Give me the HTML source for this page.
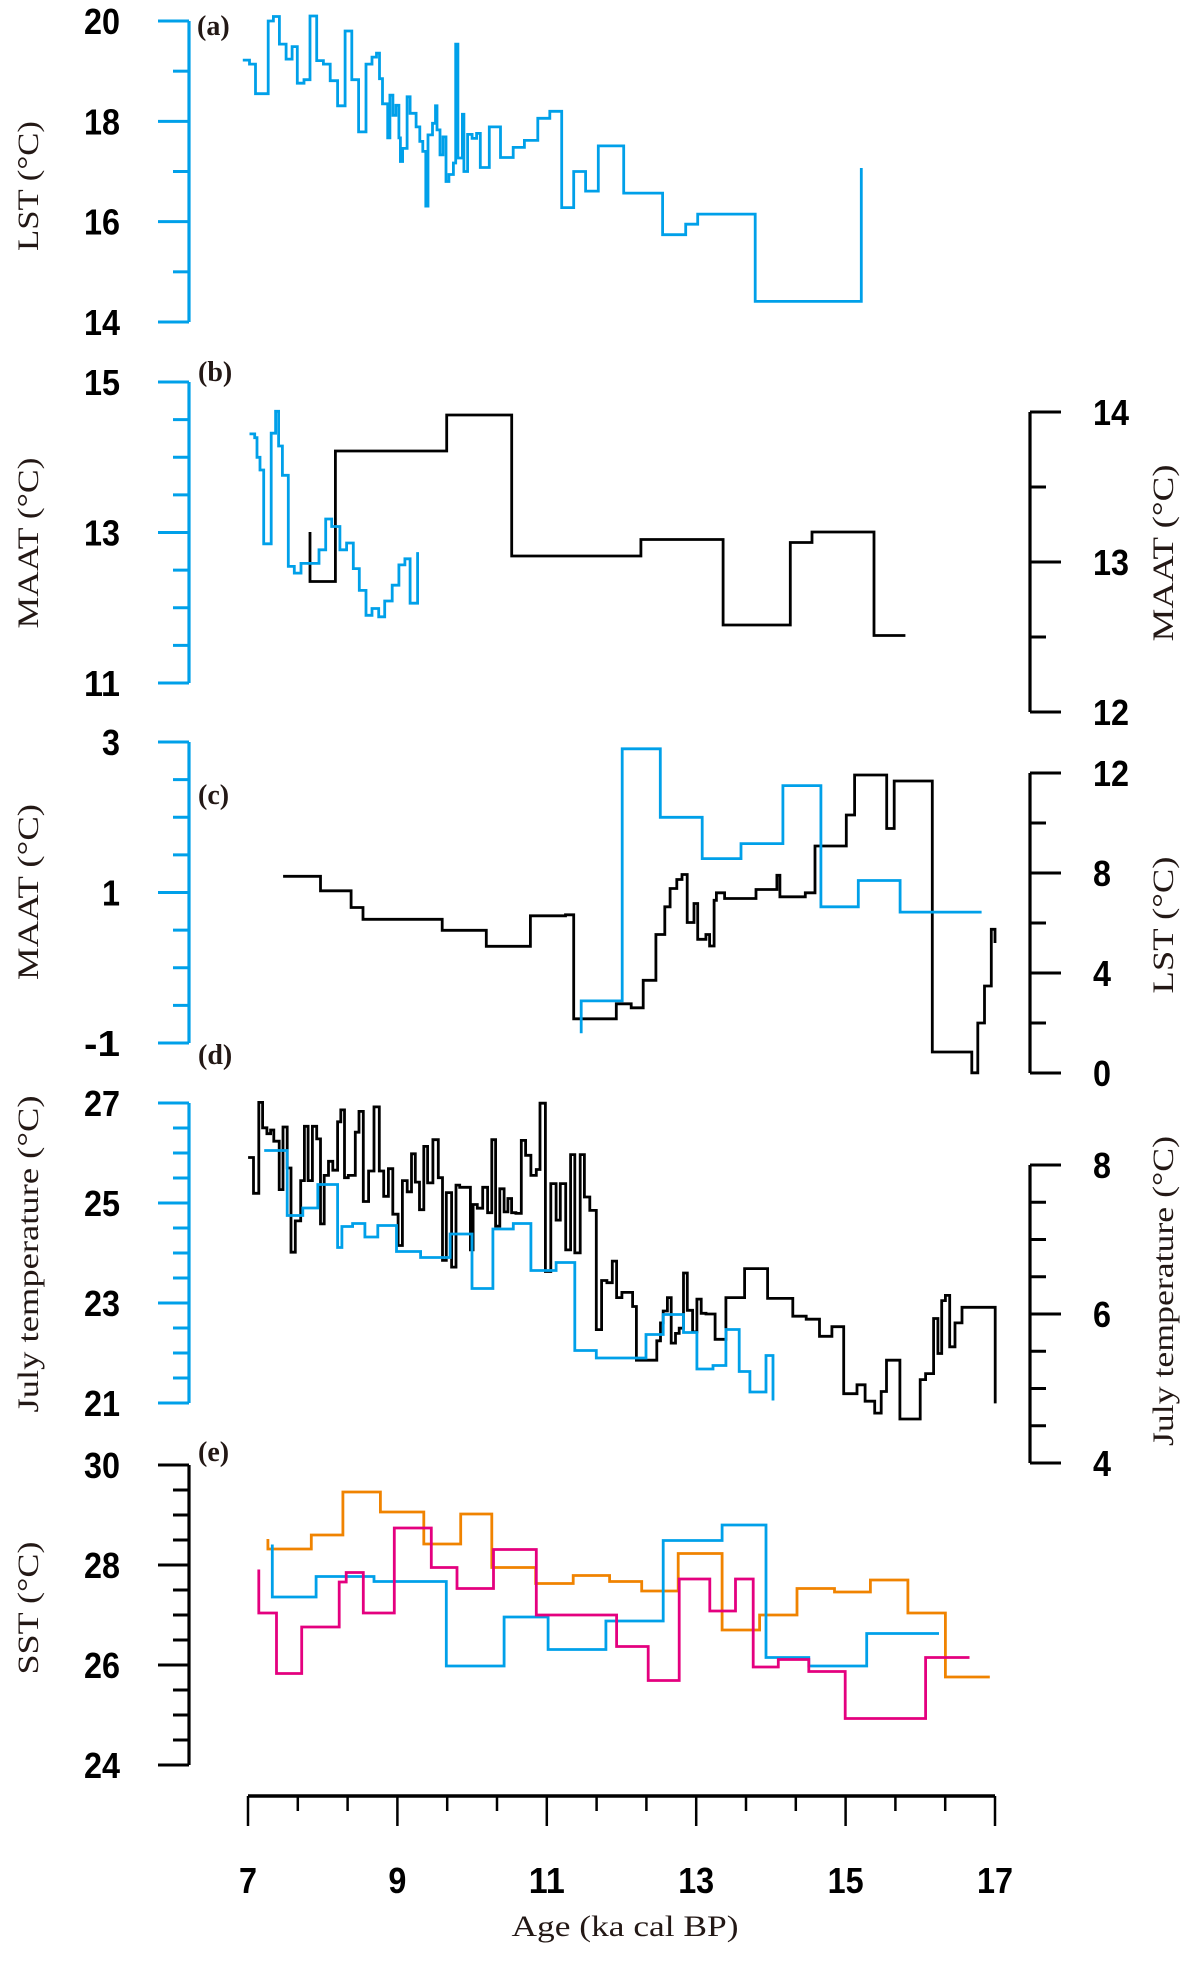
<!DOCTYPE html>
<html><head><meta charset="utf-8"><style>
html,body{margin:0;padding:0;background:#fff;}
svg{display:block;}
.tk{font-family:"Liberation Sans",sans-serif;font-weight:bold;font-size:36px;}
.ti{font-family:"Liberation Serif",serif;font-size:30px;}
.pl{font-family:"Liberation Serif",serif;font-size:28px;font-weight:bold;}
</style></head><body>
<svg id="chart" width="1192" height="1962" viewBox="0 0 1192 1962" xmlns="http://www.w3.org/2000/svg"></svg>
<script>
// ---- shared axis ----
const xTicks = [7, 9, 11, 13, 15, 17];
// ---- panel a: LST (blue) ----
const aAges = [6.93,7.02,7.10,7.27,7.34,7.42,7.51,7.59,7.66,7.75,7.83,7.92,8.01,8.10,8.20,8.30,8.39,8.48,8.58,8.66,8.72,8.76,8.80,8.87,8.90,8.94,8.98,9.02,9.04,9.07,9.13,9.17,9.25,9.30,9.34,9.38,9.41,9.47,9.51,9.53,9.57,9.61,9.65,9.69,9.75,9.78,9.81,9.87,9.89,9.94,10.00,10.06,10.11,10.23,10.38,10.55,10.70,10.88,11.04,11.20,11.36,11.52,11.69,12.03,12.55,12.86,13.02,13.79,15.21];
const aVals = [19.22,19.14,18.55,20.0,20.09,19.54,19.24,19.49,18.76,18.83,20.1,19.21,19.14,18.81,18.31,19.80,18.83,17.79,19.14,19.28,19.36,18.85,18.35,17.67,18.52,18.12,18.32,17.67,17.20,17.46,18.49,18.16,17.89,17.60,17.40,16.31,17.73,17.96,18.31,17.83,17.33,17.69,16.80,16.94,17.17,19.54,17.27,18.14,17.00,17.74,17.66,17.76,17.08,17.89,17.28,17.48,17.62,18.06,18.20,16.28,17.00,16.61,17.51,16.57,15.74,15.95,16.15,14.41,17.07];
const aEnd = 15.21;
// ---- panel b ----
const bBlueAges = [7.02,7.09,7.12,7.16,7.21,7.31,7.37,7.41,7.46,7.54,7.62,7.71,7.95,8.04,8.12,8.23,8.32,8.41,8.49,8.58,8.66,8.75,8.83,8.93,9.02,9.10,9.17,9.27];
const bBlueVals = [14.31,14.26,14.00,13.83,12.85,14.32,14.61,14.15,13.76,12.55,12.46,12.59,12.77,13.18,13.08,12.77,12.86,12.52,12.23,11.90,11.99,11.88,12.09,12.30,12.57,12.65,12.06,12.74];
const bBlueEnd = 9.27;
const bBlackAges = [7.83,7.83,8.17,9.66,10.53,12.26,13.36,14.26,14.55,15.38];
const bBlackVals = [13.20,12.87,13.74,13.98,13.04,13.15,12.58,13.13,13.20,12.51];
const bBlackEnd = 15.80;
// ---- panel c ----
const cBlueAges = [11.46,11.46,12.01,12.52,13.08,13.60,14.16,14.67,15.17,15.73];
const cBlueVals = [-0.87,-0.44,2.91,2.00,1.45,1.65,2.42,0.81,1.16,0.74];
const cBlueEnd = 16.82;
const cBlackAges = [7.47,7.97,8.38,8.54,9.60,10.19,10.78,11.25,11.36,11.93,12.13,12.29,12.46,12.58,12.65,12.74,12.81,12.88,12.97,13.02,13.13,13.18,13.24,13.27,13.38,13.80,14.08,14.12,14.46,14.59,15.01,15.12,15.55,15.65,16.16,16.69,16.77,16.86,16.95,17.00];
const cBlackVals = [7.87,7.29,6.62,6.15,5.71,5.07,6.29,6.33,2.17,2.77,2.61,3.71,5.54,6.65,7.38,7.74,7.94,6.02,6.78,5.35,5.54,5.08,6.91,7.21,6.98,7.34,7.91,7.05,7.21,9.08,10.32,11.92,9.78,11.68,0.84,0.01,2.00,3.48,5.75,5.20];
const cBlackEnd = 17.00;
// ---- panel d ----
const dBlueAges = [7.217,7.525,7.733,7.934,8.199,8.257,8.400,8.565,8.737,8.988,9.310,9.705,9.999,10.278,10.551,10.787,11.124,11.375,11.662,12.328,12.558,12.830,13.009,13.225,13.397,13.576,13.719,13.934,14.028];
const dBlueVals = [26.05,24.75,24.90,25.37,24.11,24.53,24.59,24.32,24.55,24.03,23.91,24.38,23.29,24.48,24.59,23.65,23.81,22.05,21.90,22.37,22.77,22.41,21.68,21.75,22.47,21.63,21.22,21.95,21.05];
const dBlueEnd = 14.028;
const dBlackAges = [7.002,7.074,7.145,7.196,7.253,7.303,7.346,7.418,7.468,7.525,7.575,7.633,7.705,7.755,7.805,7.862,7.920,7.970,8.020,8.077,8.135,8.199,8.242,8.292,8.343,8.436,8.486,8.543,8.615,8.687,8.758,8.816,8.880,8.938,9.009,9.067,9.131,9.189,9.239,9.296,9.353,9.404,9.475,9.547,9.604,9.655,9.726,9.784,9.834,9.977,10.013,10.070,10.142,10.207,10.264,10.314,10.371,10.429,10.479,10.529,10.586,10.658,10.716,10.787,10.859,10.909,10.981,11.053,11.124,11.181,11.253,11.318,11.375,11.447,11.504,11.576,11.662,11.734,11.805,11.877,11.934,12.006,12.149,12.199,12.472,12.522,12.558,12.615,12.665,12.723,12.773,12.830,12.881,12.952,13.009,13.067,13.131,13.253,13.397,13.648,13.956,14.293,14.472,14.651,14.816,14.974,15.153,15.261,15.390,15.476,15.548,15.727,15.999,16.071,16.178,16.236,16.286,16.336,16.393,16.465,16.558,17.003];
const dBlackVals = [8.10,7.62,8.84,8.50,8.42,8.47,8.32,7.67,8.51,7.96,6.83,7.25,7.79,8.52,7.79,8.52,8.35,7.21,7.86,8.05,7.93,8.58,8.74,7.83,7.86,8.44,8.72,7.51,7.92,8.78,7.92,7.58,7.95,7.34,6.92,7.79,7.64,8.15,7.77,7.40,8.25,7.76,8.34,7.83,6.72,7.63,6.63,7.73,7.70,6.86,7.47,7.42,7.70,7.36,8.34,7.18,7.68,7.37,7.55,7.36,7.35,8.33,8.13,7.86,7.94,8.83,6.57,7.75,7.26,7.75,6.86,8.14,6.82,8.14,7.57,7.39,5.79,6.45,6.42,6.71,6.22,6.29,6.10,5.38,5.64,5.88,6.04,6.22,5.61,5.74,5.81,6.55,6.05,5.76,6.20,6.01,6.00,5.66,6.22,6.61,6.21,5.97,5.93,5.70,5.83,4.93,5.05,4.83,4.67,4.96,5.38,4.59,5.12,5.20,5.94,5.47,6.18,6.25,5.56,5.88,6.09,4.80];
const dBlackEnd = 17.003;
// ---- panel e: SST ----
const eOrangeAges = [7.267,7.267,7.848,8.271,8.773,9.353,9.848,10.264,10.852,11.354,11.841,12.271,12.759,13.347,13.849,14.350,14.852,15.332,15.834,16.336];
const eOrangeVals = [28.52,28.32,28.60,29.46,29.06,28.42,29.02,27.95,27.63,27.79,27.67,27.48,28.23,26.70,27.00,27.53,27.46,27.70,27.04,25.76];
const eOrangeEnd = 16.931;
const eBlueAges = [7.325,7.325,7.912,8.687,9.655,10.429,11.017,11.791,12.558,13.347,13.934,14.508,15.282];
const eBlueVals = [28.41,27.36,27.77,27.67,25.98,26.96,26.31,26.88,28.49,28.80,26.15,25.98,26.63];
const eBlueEnd = 16.250;
const ePinkAges = [7.145,7.145,7.382,7.719,8.221,8.314,8.543,8.959,9.454,9.798,10.286,10.859,11.934,12.357,12.773,13.182,13.526,13.763,14.099,14.508,14.995,16.071];
const ePinkVals = [27.91,27.04,25.83,26.76,27.66,27.85,27.04,28.74,27.95,27.53,28.31,27.00,26.37,25.69,27.72,27.08,27.72,25.96,26.11,25.87,24.93,26.15];
const ePinkEnd = 16.659;

const NS = "http://www.w3.org/2000/svg";
const svg = document.getElementById('chart');
const X0 = 248, X1 = 995, A0 = 7, A1 = 17;
function xs(a){ return X0 + (a - A0) * (X1 - X0) / (A1 - A0); }
function yScale(v0, y0, v1, y1){ return v => y0 + (v - v0) * (y1 - y0) / (v1 - v0); }
function el(tag, attrs, parent){ const e = document.createElementNS(NS, tag); for (const k in attrs) e.setAttribute(k, attrs[k]); (parent||svg).appendChild(e); return e; }
function txt(s, attrs, parent){ const t = el('text', attrs, parent); t.textContent = s; return t; }
function condensed(s){ return s.length * 18; }

function axis(name, side, sx, ys, vmin, vmax, step, labels, color){
  const g = el('g', {});
  
  
  const sp = el('line', {x1: sx, x2: sx, y1: ys(vmin), y2: ys(vmax), stroke: color, 'stroke-width': 3.2}, g);
  
  
  const n = Math.round((vmax - vmin) / step);
  for (let i = 0; i <= n; i++){
    const v = vmin + i * step;
    const major = labels.some(l => Math.abs(l - v) < 1e-6);
    const len = major ? 31 : 16;
    const t = el('line', {x1: sx, x2: side === 'left' ? sx - len : sx + len, y1: ys(v), y2: ys(v), stroke: color, 'stroke-width': 3}, g);
    
    
  }
  labels.forEach(l => {
    const s = String(l);
    const t = txt(s, side === 'left'
      ? {x: 120, y: ys(l) + 13, 'text-anchor': 'end', class: 'tk', fill: '#000', textLength: condensed(s), lengthAdjust: 'spacingAndGlyphs'}
      : {x: 1093, y: ys(l) + 13, 'text-anchor': 'start', class: 'tk', fill: '#000', textLength: condensed(s), lengthAdjust: 'spacingAndGlyphs'}, g);
    
    
  });
}
function ytitle(s, cx, cy, len, name){
  const t = txt(s, {x: 0, y: 0, class: 'ti', 'text-anchor': 'middle', textLength: len, lengthAdjust: 'spacingAndGlyphs', transform: `translate(${cx},${cy}) rotate(-90)`, fill: '#231815'});
  
  
}
function plabel(s, x, y, name){
  const t = txt(s, {x: x, y: y, class: 'pl', fill: '#231815'});
  
  
}
function step(ages, vals, end, ys, color, name){
  let d = `M${xs(ages[0]).toFixed(1)},${ys(vals[0]).toFixed(1)}`;
  for (let i = 0; i < ages.length; i++){
    const nx = i + 1 < ages.length ? ages[i + 1] : end;
    d += ` H${xs(nx).toFixed(1)}`;
    if (i + 1 < vals.length) d += ` V${ys(vals[i + 1]).toFixed(1)}`;
  }
  const p = el('path', {d: d, fill: 'none', stroke: color, 'stroke-width': 2.8, 'stroke-linejoin': 'miter'});
  
  
}
const BLUE = '#00A0E9', BLK = '#000', ORG = '#F08300', PNK = '#E4007F';
const LX = 189, RX = 1030;

// panel a
const ya = yScale(20, 21, 14, 322);
axis('panel-a-left-axis', 'left', LX, ya, 14, 20, 1, [14, 16, 18, 20], BLUE);
ytitle('LST (°C)', 38, 186, 130, 'panel-a-y-title');
plabel('(a)', 197, 35, 'panel-a-label');
step(aAges, aVals, aEnd, ya, BLUE, 'panel-a-lst-series');

// panel b
const ybL = yScale(15, 382, 11, 683);
const ybR = yScale(14, 412, 12, 712);
axis('panel-b-left-axis', 'left', LX, ybL, 11, 15, 0.5, [11, 13, 15], BLUE);
axis('panel-b-right-axis', 'right', RX, ybR, 12, 14, 0.5, [12, 13, 14], BLK);
ytitle('MAAT (°C)', 38, 543, 171, 'panel-b-left-title');
ytitle('MAAT (°C)', 1173, 553, 177, 'panel-b-right-title');
plabel('(b)', 198, 381, 'panel-b-label');
step(bBlackAges, bBlackVals, bBlackEnd, ybR, BLK, 'panel-b-black-series');
step(bBlueAges, bBlueVals, bBlueEnd, ybL, BLUE, 'panel-b-blue-series');

// panel c
const ycL = yScale(3, 742, -1, 1043);
const ycR = yScale(12, 773, 0, 1073);
axis('panel-c-left-axis', 'left', LX, ycL, -1, 3, 0.5, [-1, 1, 3], BLUE);
axis('panel-c-right-axis', 'right', RX, ycR, 0, 12, 2, [0, 4, 8, 12], BLK);
ytitle('MAAT (°C)', 38, 892, 176, 'panel-c-left-title');
ytitle('LST (°C)', 1173, 925, 137, 'panel-c-right-title');
plabel('(c)', 198, 804, 'panel-c-label');
step(cBlackAges, cBlackVals, cBlackEnd, ycR, BLK, 'panel-c-black-series');
step(cBlueAges, cBlueVals, cBlueEnd, ycL, BLUE, 'panel-c-blue-series');

// panel d
const ydL = yScale(27, 1103, 21, 1403);
const ydR = yScale(8, 1165, 4, 1463);
axis('panel-d-left-axis', 'left', LX, ydL, 21, 27, 0.5, [21, 23, 25, 27], BLUE);
axis('panel-d-right-axis', 'right', RX, ydR, 4, 8, 0.5, [4, 6, 8], BLK);
ytitle('July temperature (°C)', 38, 1254, 317, 'panel-d-left-title');
ytitle('July temperature (°C)', 1173, 1291, 310, 'panel-d-right-title');
plabel('(d)', 198, 1064, 'panel-d-label');
step(dBlackAges, dBlackVals, dBlackEnd, ydR, BLK, 'panel-d-black-series');
step(dBlueAges, dBlueVals, dBlueEnd, ydL, BLUE, 'panel-d-blue-series');

// panel e
const ye = yScale(30, 1465, 24, 1765);
axis('panel-e-left-axis', 'left', LX, ye, 24, 30, 0.5, [24, 26, 28, 30], BLK);
ytitle('SST (°C)', 38, 1608, 133, 'panel-e-y-title');
plabel('(e)', 198, 1461, 'panel-e-label');
step(eOrangeAges, eOrangeVals, eOrangeEnd, ye, ORG, 'panel-e-orange-series');
step(eBlueAges, eBlueVals, eBlueEnd, ye, BLUE, 'panel-e-blue-series');
step(ePinkAges, ePinkVals, ePinkEnd, ye, PNK, 'panel-e-pink-series');

// x axis
const gx = el('g', {});


const xl = el('line', {x1: X0, x2: X1, y1: 1796, y2: 1796, stroke: '#000', 'stroke-width': 3.5}, gx);


for (let i = 0; i <= 15; i++){
  const a = A0 + i * 2 / 3;
  const major = i % 3 === 0;
  const t = el('line', {x1: xs(a), x2: xs(a), y1: 1796, y2: major ? 1826 : 1811, stroke: '#000', 'stroke-width': 2.5}, gx);
  
  
}
xTicks.forEach(v => {
  const s = String(v);
  const t = txt(s, {x: xs(v), y: 1893, 'text-anchor': 'middle', class: 'tk', fill: '#000', textLength: condensed(s), lengthAdjust: 'spacingAndGlyphs'}, gx);
  
  
});
const xt = txt('Age (ka cal BP)', {x: 625, y: 1936, 'text-anchor': 'middle', class: 'ti', textLength: 227, lengthAdjust: 'spacingAndGlyphs', fill: '#231815'});


</script>
</body></html>
